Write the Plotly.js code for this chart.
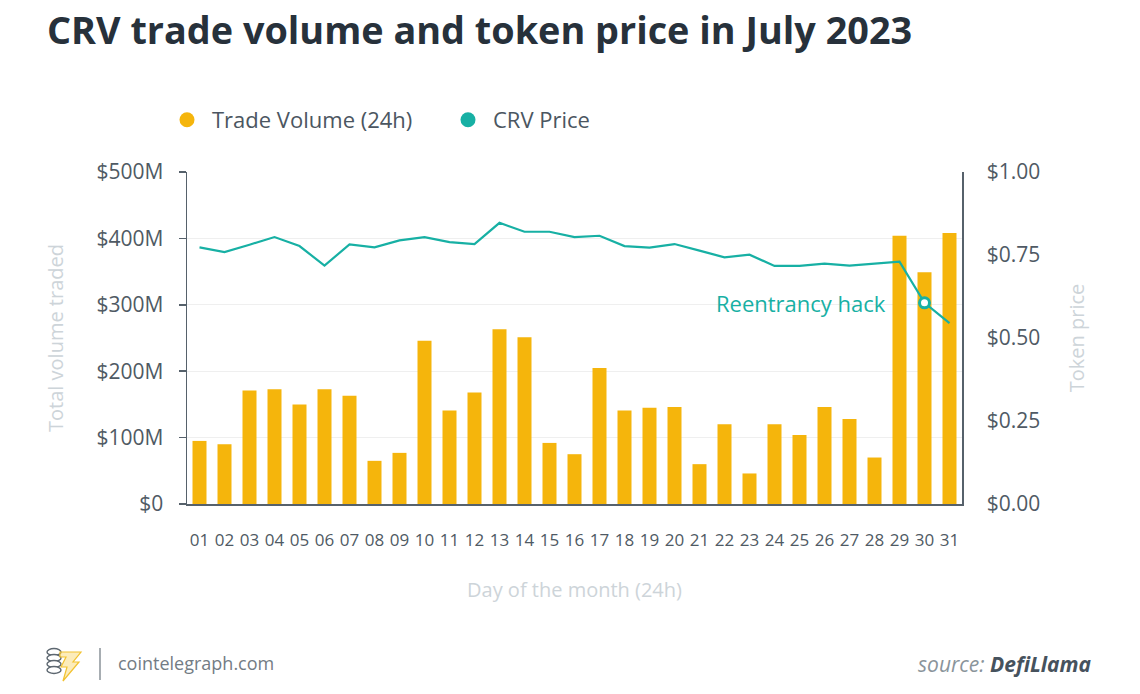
<!DOCTYPE html>
<html>
<head>
<meta charset="utf-8">
<script src="https://cdn.plot.ly/plotly-3.0.1.min.js"></script>
<style>
  html, body { margin: 0; padding: 0; background: #ffffff; }
  #chart { width: 1140px; height: 694px; }
</style>
</head>
<body>
<div id="chart"></div>
<script>
// ---------- data ----------
const days = ['01','02','03','04','05','06','07','08','09','10','11','12','13','14','15','16',
              '17','18','19','20','21','22','23','24','25','26','27','28','29','30','31'];
// 24h trade volume, USD millions
const volumeM = [95, 90, 171, 173, 150, 173, 163, 65, 77, 246, 141, 168, 263, 251, 92, 75,
                 205, 141, 145, 146, 60, 120, 46, 120, 104, 146, 128, 70, 404, 349, 408];
// CRV token price, USD
const priceUSD = [0.773, 0.759, 0.781, 0.804, 0.777, 0.718, 0.782, 0.773, 0.794, 0.804, 0.789,
                  0.783, 0.847, 0.820, 0.820, 0.804, 0.808, 0.777, 0.772, 0.783, 0.763, 0.743,
                  0.751, 0.717, 0.717, 0.724, 0.718, 0.724, 0.730, 0.606, 0.545];
const hackDay = '30';
const volumeTicksM = [0, 100, 200, 300, 400, 500];
const volumeTickText = ['$0', '$100M', '$200M', '$300M', '$400M', '$500M'];
const priceTicks = [0, 0.25, 0.5, 0.75, 1.0];
const priceTickText = ['$0.00', '$0.25', '$0.50', '$0.75', '$1.00'];

// ---------- styling ----------
const ORANGE = '#f5b50c';
const TEAL = '#17b0a4';
const AXIS = '#56616b';
const TICKTXT = '#4f5a64';
const LIGHT = '#cdd4d9';
const FONT = 'Open Sans, Noto Sans, sans-serif';

const W = 1140, H = 694;
const L = 187, R = 962, T = 172, B = 504;
const xp = px => (px - L) / (R - L);
const yp = py => (B - py) / (B - T);

const volume = volumeM.map(v => v * 1e6);
const hackIdx = days.indexOf(hackDay);

const traces = [
  {
    type: 'bar', x: days, y: volume, yaxis: 'y',
    marker: { color: ORANGE }, showlegend: false, hoverinfo: 'skip'
  },
  {
    type: 'scatter', mode: 'lines+markers', x: days, y: priceUSD, yaxis: 'y2',
    line: { color: TEAL, width: 2.2 },
    marker: {
      size: 10, color: '#ffffff',
      opacity: days.map((d, i) => i === hackIdx ? 1 : 0),
      line: { color: TEAL, width: 3 }
    },
    showlegend: false, hoverinfo: 'skip'
  },
  // legend entries (dots)
  {
    type: 'scatter', mode: 'markers', x: [null], y: [null], name: 'Trade Volume (24h)',
    marker: { color: ORANGE, size: 15, symbol: 'circle' }, showlegend: true
  },
  {
    type: 'scatter', mode: 'markers', x: [null], y: [null], name: 'CRV Price', yaxis: 'y2',
    marker: { color: TEAL, size: 15, symbol: 'circle' }, showlegend: true
  }
];

// logo shapes (coin stack + bolt)
const shapes = [];
[652, 658, 664, 670].forEach(cy => {
  shapes.push({
    type: 'circle', xref: 'paper', yref: 'paper',
    x0: xp(47), x1: xp(61), y0: yp(cy - 3.5), y1: yp(cy + 3.5),
    line: { color: '#5d6770', width: 1.4 }, fillcolor: '#ffffff', layer: 'above'
  });
});
function pathPx(pts) {
  return 'M ' + pts.map(p => xp(p[0]) + ',' + yp(p[1])).join(' L ') + ' Z';
}
shapes.push({
  type: 'path', xref: 'paper', yref: 'paper',
  path: pathPx([[60, 652], [81, 652], [73, 662], [79, 662], [63, 681], [67, 667], [61, 667], [66, 657], [60, 657]]),
  line: { color: '#f2c230', width: 1.2 }, fillcolor: 'rgba(245,200,60,0.35)', layer: 'above'
});
shapes.push({
  type: 'line', xref: 'paper', yref: 'paper',
  x0: xp(100), x1: xp(100), y0: yp(648), y1: yp(680),
  line: { color: '#8a9299', width: 1.5 }
});

const layout = {
  width: W, height: H,
  margin: { l: L, r: W - R, t: T, b: H - B, pad: 0 },
  paper_bgcolor: '#ffffff', plot_bgcolor: '#ffffff',
  font: { family: FONT, color: TICKTXT },
  title: {
    text: 'CRV trade volume and token price in July 2023',
    font: { family: FONT, size: 37.8, color: '#27313b', weight: 700 },
    xref: 'container', yref: 'container', x: 47 / W, xanchor: 'left',
    y: 1 - 30.5 / H, yanchor: 'middle'
  },
  bargap: 0.44,
  xaxis: {
    type: 'category', categoryorder: 'array', categoryarray: days,
    range: [-0.5, days.length - 0.5],
    showline: true, linecolor: AXIS, linewidth: 1.5,
    showgrid: false, ticks: '', ticklabelstandoff: 20,
    tickfont: { family: FONT, size: 17, color: TICKTXT },
    title: { text: 'Day of the month (24h)', font: { family: FONT, size: 20, color: LIGHT }, standoff: 33 },
    fixedrange: true
  },
  yaxis: {
    range: [0, 500e6], tickvals: volumeTicksM.map(v => v * 1e6), ticktext: volumeTickText,
    tickmode: 'array',
    showline: true, linecolor: AXIS, linewidth: 1.5,
    ticks: 'outside', ticklen: 7, tickcolor: AXIS, tickwidth: 1.5,
    showgrid: true, gridcolor: '#efefef', gridwidth: 1.2,
    zeroline: false, ticklabelstandoff: 11,
    tickfont: { family: FONT, size: 21, color: TICKTXT },
    title: { text: 'Total volume traded', font: { family: FONT, size: 20, color: LIGHT }, standoff: 27 },
    fixedrange: true
  },
  yaxis2: {
    overlaying: 'y', side: 'right', range: [0, 1], tickvals: priceTicks, ticktext: priceTickText,
    tickmode: 'array',
    showline: true, linecolor: AXIS, linewidth: 1.5,
    ticks: '', showgrid: false, zeroline: false, ticklabelstandoff: 19,
    tickfont: { family: FONT, size: 21, color: TICKTXT },
    title: { text: 'Token price', font: { family: FONT, size: 20, color: LIGHT }, standoff: 31 },
    fixedrange: true
  },
  showlegend: true,
  legend: {
    orientation: 'h', x: xp(162), xanchor: 'left', y: yp(99), yanchor: 'top',
    font: { family: FONT, size: 22, color: '#4b5661' },
    itemwidth: 40, entrywidth: 226, entrywidthmode: 'pixels',
    traceorder: 'normal', bgcolor: 'rgba(0,0,0,0)'
  },
  annotations: [
    {
      xref: 'x', yref: 'y2', x: hackIdx, y: priceUSD[hackIdx],
      text: 'Reentrancy hack', showarrow: false, xanchor: 'right', yanchor: 'middle',
      xshift: -37, font: { family: FONT, size: 22, color: TEAL }
    },
    {
      xref: 'paper', yref: 'paper', x: xp(116), y: yp(663), xanchor: 'left', yanchor: 'middle',
      text: 'cointelegraph.com', showarrow: false,
      font: { family: FONT, size: 18, color: '#737c84' }
    },
    {
      xref: 'paper', yref: 'paper', x: xp(1094), y: yp(664), xanchor: 'right', yanchor: 'middle',
      text: '<i>source: </i><b><i><span style="color:#46525d">DefiLlama</span></i></b>', showarrow: false,
      font: { family: FONT, size: 21, color: '#8a949b' }
    }
  ],
  shapes: shapes
};

Plotly.newPlot('chart', traces, layout, { displayModeBar: false, staticPlot: true });
</script>
</body>
</html>
